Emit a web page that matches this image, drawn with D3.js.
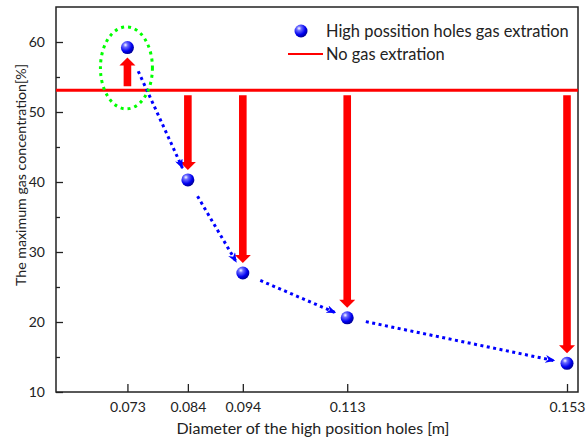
<!DOCTYPE html>
<html><head><meta charset="utf-8">
<script src="https://cdn.jsdelivr.net/npm/d3@7"></script>
<style>body{margin:0;background:#fff}svg{display:block}text{font-family:Lato,"Open Sans",sans-serif;fill:#222}</style>
</head><body>
<script>
const diameters = [0.073, 0.084, 0.094, 0.113, 0.153];
const concentrations = [59.2, 40.3, 27.0, 20.6, 14.1];
const noExtraction = 53.1;
const xTickLabels = ["0.073", "0.084", "0.094", "0.113", "0.153"];
const yTicks = [10, 20, 30, 40, 50, 60];
const yMinorTicks = [15, 25, 35, 45, 55];
const seriesNames = ["High possition holes gas extration", "No gas extration"];

const W = 586, H = 440;
const m = {left: 56, right: 8, top: 7, bottom: 48};
const svg = d3.select("body").append("svg").attr("width", W).attr("height", H);
const x = d3.scaleLinear().domain([0.06, 0.155]).range([m.left, W - m.right]);
const y = d3.scaleLinear().domain([10, 65]).range([H - m.bottom, m.top]);

const defs = svg.append("defs");
const grad = defs.append("radialGradient").attr("id", "ball").attr("cx", "35%").attr("cy", "30%").attr("r", "70%");
grad.append("stop").attr("offset", "0%").attr("stop-color", "#ffffff");
grad.append("stop").attr("offset", "25%").attr("stop-color", "#6a6aff");
grad.append("stop").attr("offset", "70%").attr("stop-color", "#0000f0");
grad.append("stop").attr("offset", "100%").attr("stop-color", "#00009a");
defs.append("marker").attr("id", "bluehead").attr("viewBox", "0 0 10 8").attr("refX", 9).attr("refY", 4)
  .attr("markerWidth", 10).attr("markerHeight", 8).attr("markerUnits", "userSpaceOnUse").attr("orient", "auto")
  .append("path").attr("d", "M0,0 L10,4 L0,8 L3,4 Z").attr("fill", "#0000ff");

// frame
svg.append("rect").attr("x", m.left).attr("y", m.top).attr("width", W - m.left - m.right).attr("height", H - m.top - m.bottom)
  .attr("fill", "none").attr("stroke", "#222").attr("stroke-width", 1.5);

// axes
const xAxis = d3.axisBottom(x).tickValues(diameters).tickFormat((d, i) => xTickLabels[i]).tickSizeInner(-8).tickSizeOuter(0).tickPadding(10);
const gx = svg.append("g").attr("transform", `translate(0,${H - m.bottom})`).call(xAxis);
gx.select(".domain").remove();
gx.selectAll("line").attr("stroke", "#222").attr("stroke-width", 1.3);
gx.selectAll("text").style("font-size", "14px").attr("fill", "#222");

const yAxis = d3.axisLeft(y).tickValues(yTicks).tickSizeInner(-7).tickSizeOuter(0).tickPadding(11);
const gy = svg.append("g").attr("transform", `translate(${m.left},0)`).call(yAxis);
gy.select(".domain").remove();
gy.selectAll("line").attr("stroke", "#222").attr("stroke-width", 1.3);
gy.selectAll("text").style("font-size", "14px").attr("fill", "#222");
const gym = svg.append("g").attr("transform", `translate(${m.left},0)`).call(d3.axisLeft(y).tickValues(yMinorTicks).tickSizeInner(-4).tickSizeOuter(0).tickFormat(""));
gym.select(".domain").remove();
gym.selectAll("line").attr("stroke", "#222").attr("stroke-width", 1.3);

svg.append("text").attr("x", 313).attr("y", 434).attr("text-anchor", "middle")
  .style("font-size", "16px").text("Diameter of the high position holes [m]");
svg.append("text").attr("transform", `translate(26,175) rotate(-90)`).attr("text-anchor", "middle")
  .style("font-size", "14.2px").text("The maximum gas concentration[%]");

// baseline
svg.append("line").attr("x1", m.left).attr("x2", W - m.right).attr("y1", y(noExtraction)).attr("y2", y(noExtraction))
  .attr("stroke", "#ff0000").attr("stroke-width", 3);

// red block arrows
const yb = y(noExtraction);
function blockArrow(px, y0, y1) {
  const dir = y1 > y0 ? 1 : -1, sw = 3.8, hw = 8, hl = 8;
  const yh = y1 - dir * hl;
  const d = `M${px - sw},${y0} L${px + sw},${y0} L${px + sw},${yh} L${px + hw},${yh} L${px},${y1} L${px - hw},${yh} L${px - sw},${yh} Z`;
  svg.append("path").attr("d", d).attr("fill", "#ff0000");
}
diameters.forEach((d, i) => {
  const px = x(d), py = y(concentrations[i]);
  if (concentrations[i] > noExtraction) blockArrow(px, yb - 4, py + 10);
  else blockArrow(px, yb + 5, py - 10);
});

// blue dotted arrows
for (let i = 0; i < diameters.length - 1; i++) {
  const x0 = x(diameters[i]), y0 = y(concentrations[i]), x1 = x(diameters[i + 1]), y1 = y(concentrations[i + 1]);
  const L = Math.hypot(x1 - x0, y1 - y0), ux = (x1 - x0) / L, uy = (y1 - y0) / L;
  const s = i === 0 ? 26 : 19, e = 13;
  svg.append("line").attr("x1", x0 + ux * s).attr("y1", y0 + uy * s).attr("x2", x1 - ux * e).attr("y2", y1 - uy * e)
    .attr("stroke", "#0000ff").attr("stroke-width", 3).attr("stroke-dasharray", "3,3.5").attr("marker-end", "url(#bluehead)");
}

// green ellipse
svg.append("ellipse").attr("cx", x(diameters[0]) - 1).attr("cy", y(56.3)).attr("rx", 26).attr("ry", 41)
  .attr("fill", "none").attr("stroke", "#00ff00").attr("stroke-width", 3).attr("stroke-dasharray", "3,4");

// points
svg.selectAll("circle.pt").data(diameters).enter().append("circle").attr("class", "pt")
  .attr("cx", d => x(d)).attr("cy", (d, i) => y(concentrations[i])).attr("r", 6.5).attr("fill", "url(#ball)");

// legend
svg.append("circle").attr("cx", 301).attr("cy", 31).attr("r", 6.5).attr("fill", "url(#ball)");
svg.append("text").attr("x", 326).attr("y", 37).style("font-size", "16.4px").text(seriesNames[0]);
svg.append("line").attr("x1", 288).attr("x2", 323).attr("y1", 54).attr("y2", 54).attr("stroke", "#ff0000").attr("stroke-width", 2);
svg.append("text").attr("x", 326).attr("y", 60).style("font-size", "16.4px").text(seriesNames[1]);
</script>
</body></html>
